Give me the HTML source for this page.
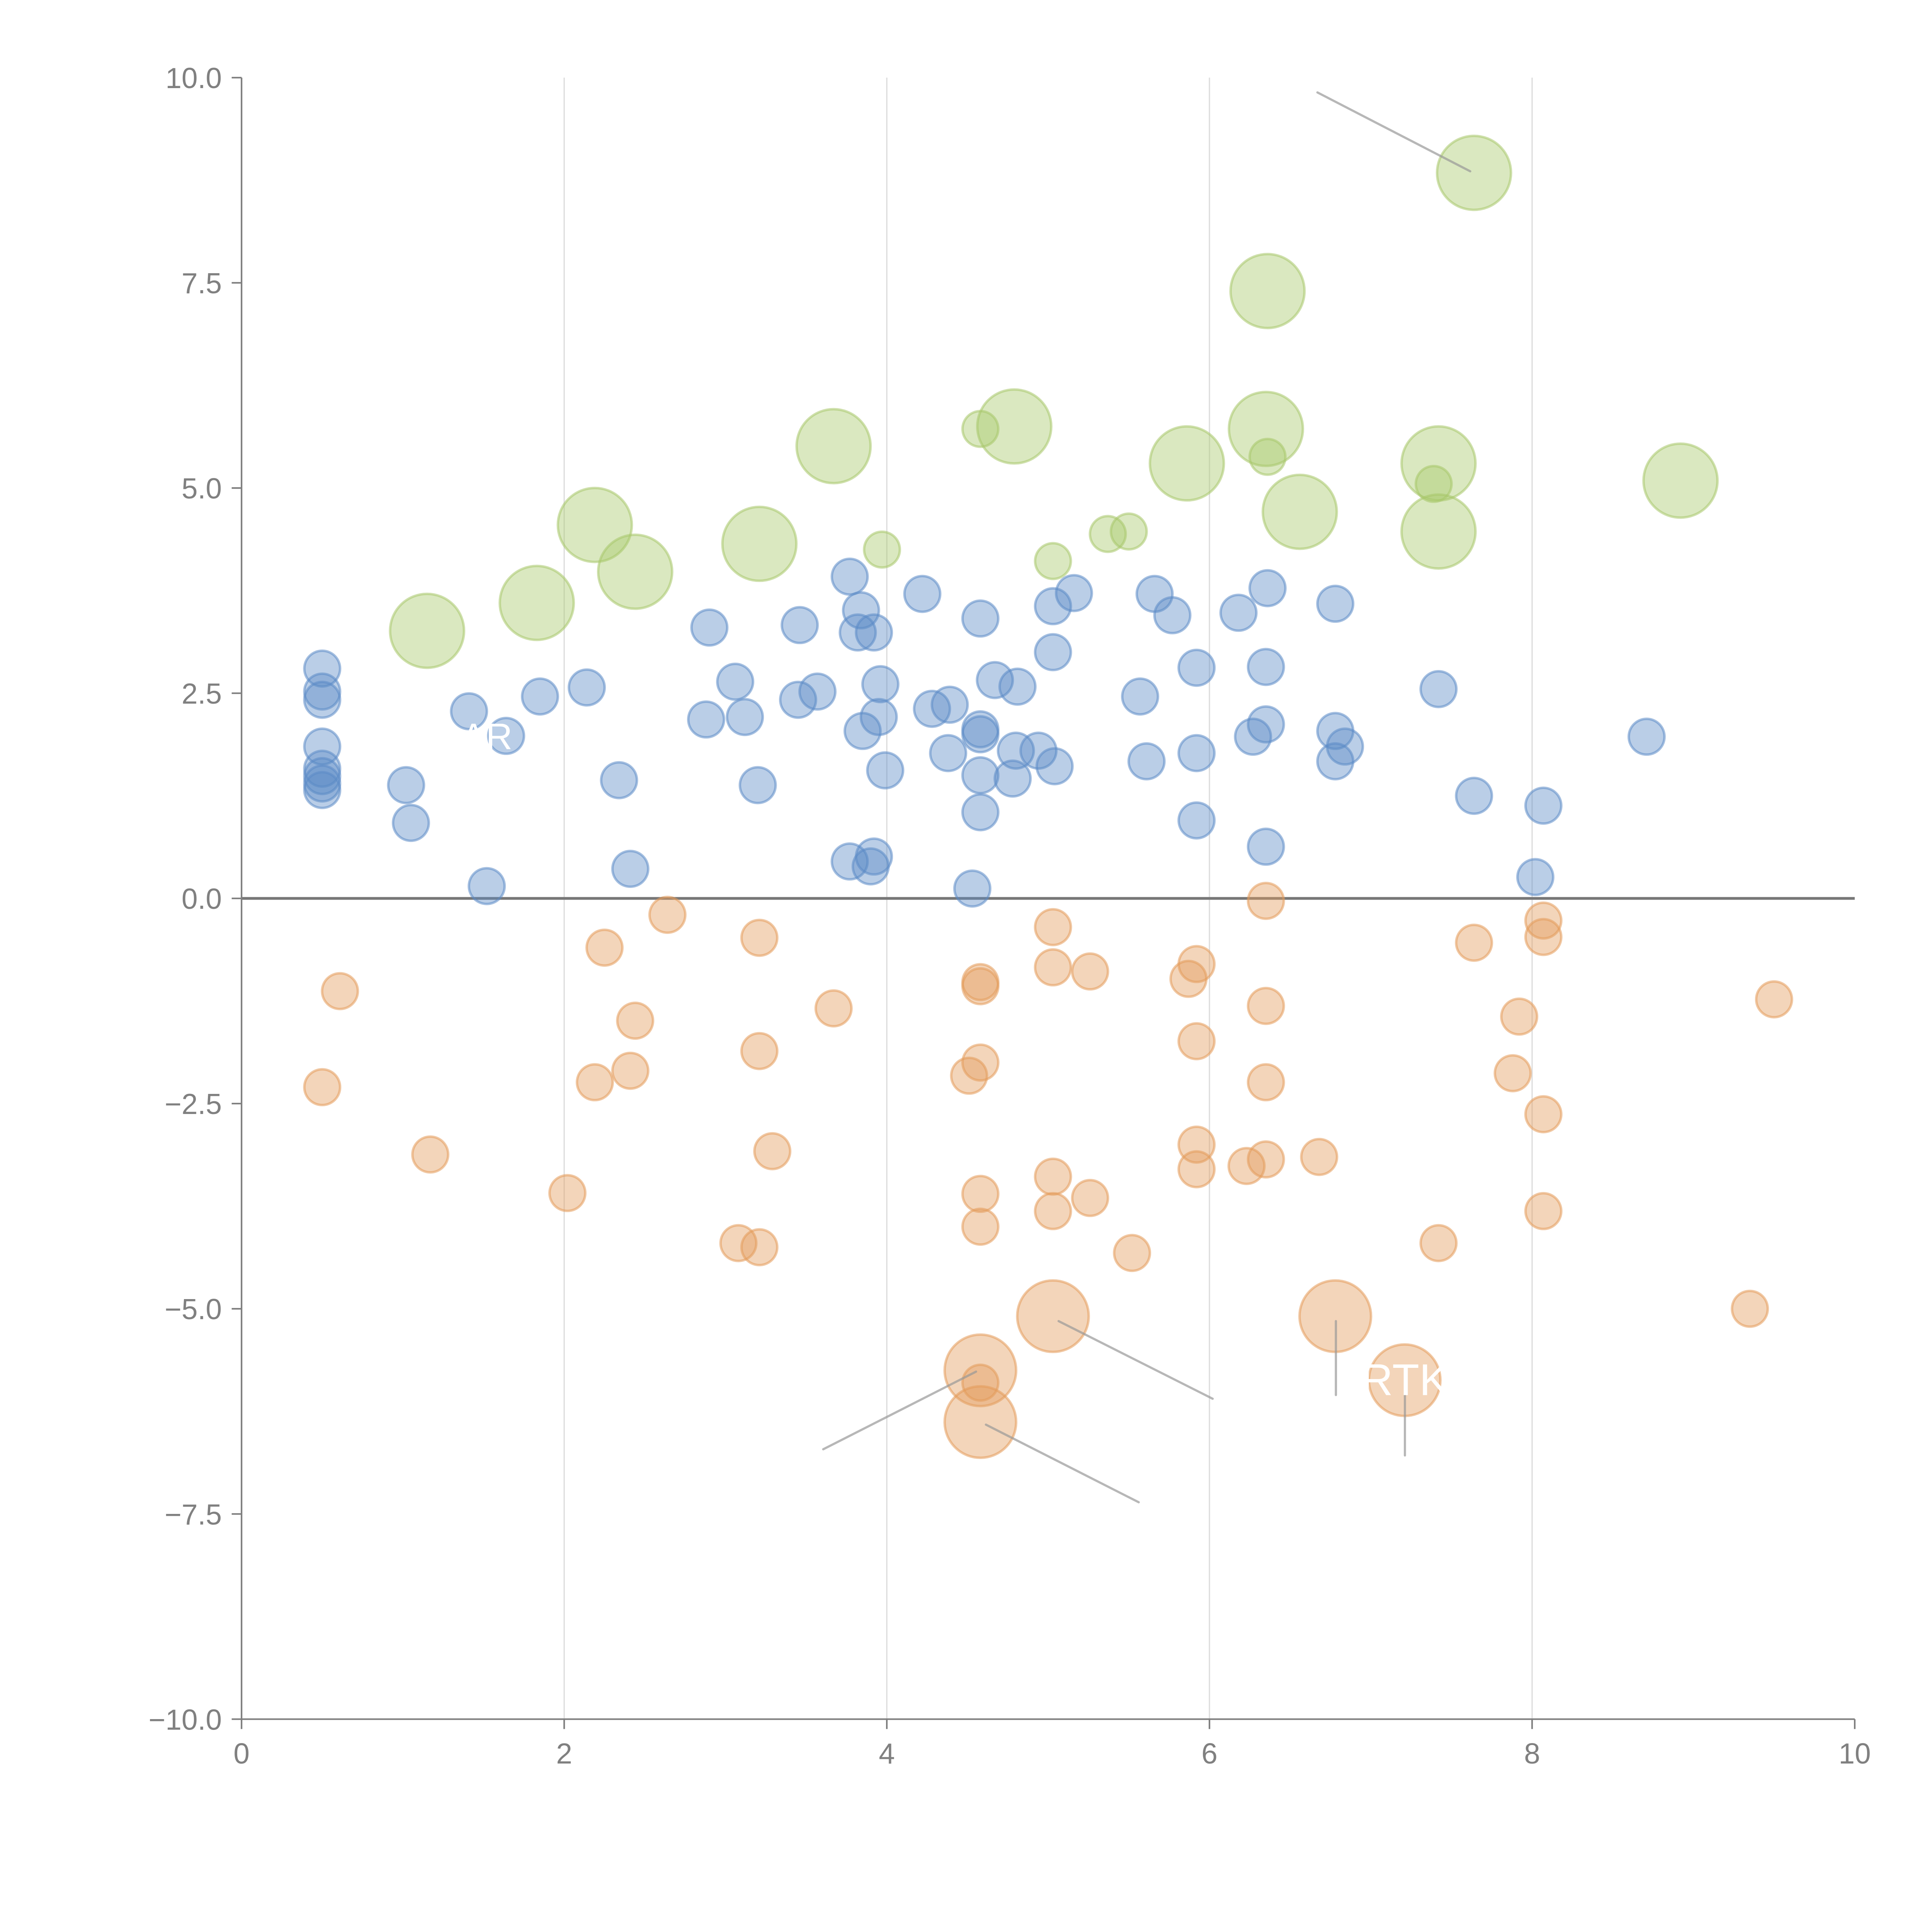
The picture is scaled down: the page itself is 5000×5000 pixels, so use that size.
<!DOCTYPE html>
<html><head><meta charset="utf-8"><style>
html,body{margin:0;padding:0;background:#fff;}
svg{display:block;}
text{font-family:"Liberation Sans",sans-serif;}
</style></head><body>
<svg id="chart" width="5000" height="5000" viewBox="0 0 1567.7 1567.7" xmlns="http://www.w3.org/2000/svg">
<g id="grid"></g>
<g id="marks"></g>
<g id="axes"></g>
</svg>
<script>
const blueX=[0.5,0.5,0.5,0.5,0.5,0.5,0.5,0.5,1.02,1.05,1.41,1.64,1.52,1.85,2.14,2.34,2.41,2.88,2.9,3.06,3.12,3.2,3.45,3.46,3.57,3.77,3.84,3.82,3.92,3.85,3.95,3.96,3.99,3.77,3.9,3.92,4.22,4.28,4.39,4.38,4.58,4.58,4.58,4.58,4.58,4.53,4.67,4.81,4.8,4.78,4.94,5.03,5.16,5.03,5.04,5.57,5.61,5.66,5.77,5.92,5.92,5.92,6.18,6.36,6.35,6.35,6.27,6.35,6.78,6.78,6.84,6.78,7.42,7.64,8.07,8.02,8.71];
const blueY=[2.8,2.52,2.42,1.85,1.58,1.49,1.4,1.32,1.38,0.92,2.28,1.98,0.15,2.46,2.57,1.44,0.36,2.18,3.3,2.64,2.21,1.38,2.42,3.33,2.52,3.92,3.51,3.24,3.24,2.04,2.21,2.61,1.56,0.45,0.39,0.51,3.71,2.31,2.36,1.77,3.41,2.06,2.0,1.5,1.05,0.12,2.66,2.58,1.8,1.46,1.8,3.56,3.72,3.0,1.61,2.46,1.67,3.71,3.45,2.81,1.77,0.95,3.48,3.78,2.82,2.12,1.97,0.63,3.59,2.04,1.85,1.67,2.55,1.25,1.13,0.26,1.97];
const orangeX=[0.5,0.61,1.17,2.02,2.19,2.25,2.41,2.44,2.64,3.08,3.21,3.29,3.21,3.21,3.67,4.51,4.58,4.58,4.58,4.58,4.58,4.58,5.03,5.03,5.26,5.03,5.03,5.26,5.52,5.87,5.92,5.92,5.92,5.92,6.23,6.35,6.35,6.35,6.35,6.68,7.42,7.64,7.92,7.88,8.07,8.07,8.07,8.07,9.5,9.35];
const orangeY=[-2.3,-1.13,-3.12,-3.59,-2.24,-0.6,-2.1,-1.49,-0.2,-4.2,-4.25,-3.08,-1.86,-0.48,-1.34,-2.16,-2.0,-1.02,-1.07,-3.6,-4.0,-5.9,-0.35,-0.84,-0.89,-3.39,-3.81,-3.65,-4.32,-0.98,-0.8,-1.74,-3.0,-3.3,-3.26,-3.18,-2.24,-1.31,-0.03,-3.15,-4.2,-0.54,-1.44,-2.13,-0.27,-0.47,-2.63,-3.81,-1.23,-5.0];
const orangeBigX=[5.03,6.78,7.21,4.58,4.58];
const orangeBigY=[-5.09,-5.09,-5.87,-5.75,-6.38];
const greenX=[4.58,3.97,5.03,5.37,5.5,6.36,7.39];
const greenY=[5.72,4.25,4.11,4.44,4.47,5.38,5.05];
const greenBigX=[1.15,1.83,2.19,2.44,3.21,3.67,4.79,5.86,6.36,6.35,6.56,7.42,7.42,8.92,7.64];
const greenBigY=[3.26,3.6,4.55,3.98,4.32,5.51,5.75,5.3,7.4,5.72,4.71,5.3,4.47,5.09,8.84];
const xTicks=[0,2,4,6,8,10];
const yTicks=[10,7.5,5,2.5,0,-2.5,-5,-7.5,-10];
const yTickLabels=["10.0","7.5","5.0","2.5","0.0","\u22122.5","\u22125.0","\u22127.5","\u221210.0"];

const X0=196,X1=1505,Y0=63,Y1=1395;
const sx=v=>X0+(v-0)/(10-0)*(X1-X0);
const sy=v=>Y0+(10-v)/20*(Y1-Y0);
const NS="http://www.w3.org/2000/svg";
function mk(tag,attrs,parent){const e=document.createElementNS(NS,tag);for(const k in attrs)e.setAttribute(k,attrs[k]);parent.appendChild(e);return e;}
const grid=document.getElementById('grid'),marks=document.getElementById('marks'),axes=document.getElementById('axes');

xTicks.forEach(t=>{if(t>0&&t<10){const l=mk('line',{x1:sx(t),x2:sx(t),y1:Y0,y2:Y1,stroke:'#dcdcdc','stroke-width':1},grid);

}});

const zl=mk('line',{x1:X0,x2:X1,y1:sy(0),y2:sy(0),stroke:'#777','stroke-width':2.2},grid);



function series(xs,ys,r,fill,stroke,name){
  xs.forEach((x,i)=>{const c=mk('circle',{cx:sx(x),cy:sy(ys[i]),r:r,fill:fill,'fill-opacity':0.42,stroke:stroke,'stroke-opacity':0.55,'stroke-width':2},marks);
  
  });
}
series(blueX,blueY,14.5,'#5b8ac6','#5b8ac6','blue-bubble');
series(orangeX,orangeY,14.5,'#e39a5a','#e39a5a','orange-bubble');
series(orangeBigX,orangeBigY,29,'#e39a5a','#e39a5a','orange-large-bubble');
series(greenX,greenY,14.5,'#a7c76a','#a7c76a','green-bubble');
series(greenBigX,greenBigY,30,'#a7c76a','#a7c76a','green-large-bubble');

const leaders=[[1069,75,1193,139],[859,1072,984,1135],[668,1176,792,1113],[800,1156,924,1219],[1084,1072,1084,1132],[1140,1122,1140,1181]];
leaders.forEach(p=>{const l=mk('line',{x1:p[0],y1:p[1],x2:p[2],y2:p[3],stroke:'#999','stroke-opacity':0.7,'stroke-width':1.8,'stroke-linecap':'round'},marks);

});

const t1=mk('text',{x:1140,y:1132,fill:'#fff','font-size':36,'text-anchor':'middle'},marks);t1.textContent='RTK';


const t2=mk('text',{x:395,y:608,fill:'#fff','font-size':30,'text-anchor':'middle'},marks);t2.textContent='AR';



const ax=mk('path',{d:`M${X0},${Y0}V${Y1}H${X1}`,fill:'none',stroke:'#808080','stroke-width':1.3},axes);


yTicks.forEach((t,i)=>{
  const l=mk('line',{x1:X0-8,x2:X0,y1:sy(t),y2:sy(t),stroke:'#808080','stroke-width':1.3},axes);
  
  
  const tx=mk('text',{x:X0-16,y:sy(t)+8.5,fill:'#808080','font-size':23.5,'text-anchor':'end'},axes);
  tx.textContent=yTickLabels[i];
  
  
});
xTicks.forEach(t=>{
  const l=mk('line',{x1:sx(t),x2:sx(t),y1:Y1,y2:Y1+8,stroke:'#808080','stroke-width':1.3},axes);
  
  
  const tx=mk('text',{x:sx(t),y:Y1+36,fill:'#808080','font-size':23.5,'text-anchor':'middle'},axes);
  tx.textContent=String(t);
  
  
});
</script>
</body></html>
